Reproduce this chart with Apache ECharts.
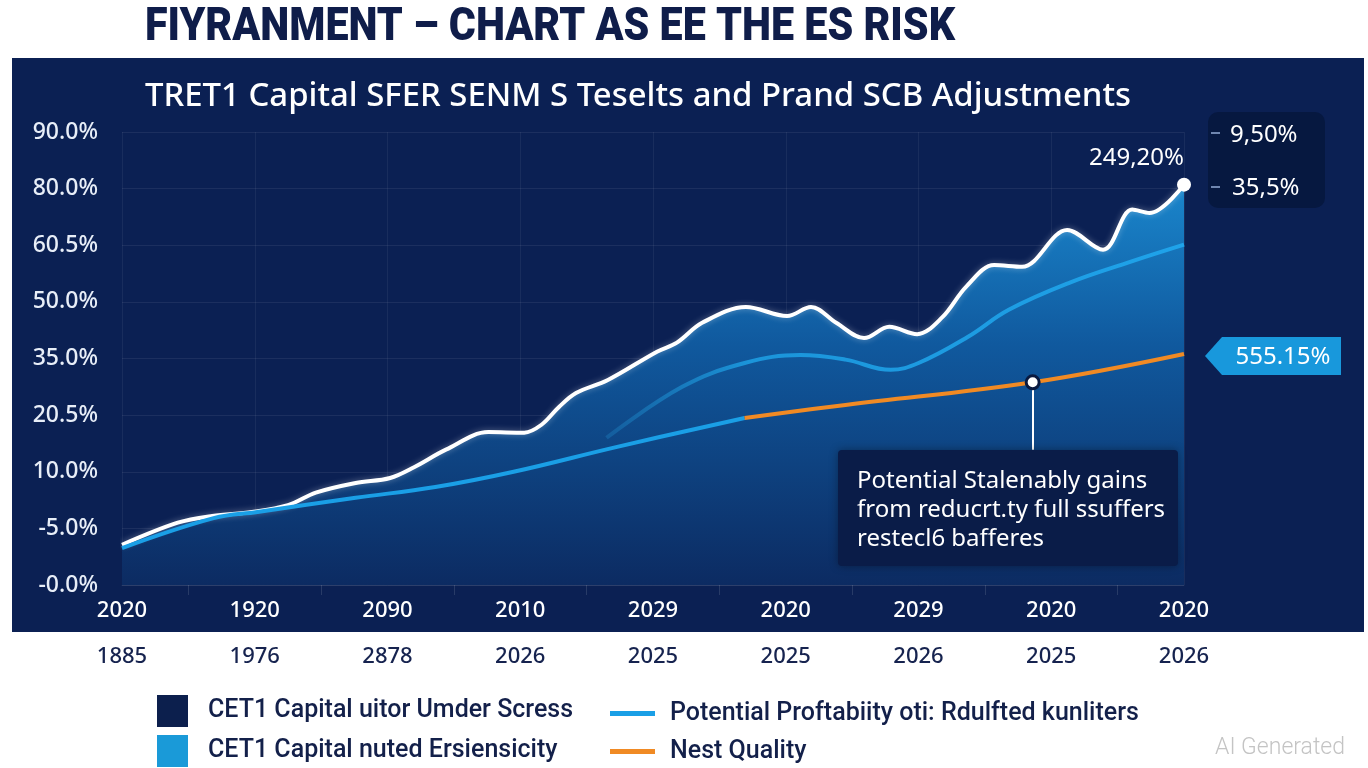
<!DOCTYPE html>
<html>
<head>
<meta charset="utf-8">
<script src="https://cdn.jsdelivr.net/npm/echarts@6/dist/echarts.min.js"></script>
<style>
html,body{margin:0;padding:0;background:#ffffff;}
#chart{width:1368px;height:768px;}
</style>
</head>
<body>
<div id="chart"></div>
<script>
// ---- texts ----
const mainTitle = 'FIYRANMENT – CHART AS EE THE ES RISK';
const subTitle = 'TRET1 Capital SFER SENM S Teselts and Prand SCB Adjustments';
const yLabels = ['-0.0%', '-5.0%', '10.0%', '20.5%', '35.0%', '50.0%', '60.5%', '80.0%', '90.0%'];
const xLabelsTop = ['2020', '1920', '2090', '2010', '2029', '2020', '2029', '2020', '2020'];
const xLabelsBottom = ['1885', '1976', '2878', '2026', '2025', '2025', '2026', '2025', '2026'];
const seriesNames = [
  'CET1 Capital uitor Umder Scress',
  'CET1 Capital nuted Ersiensicity',
  'Potential Proftabiity oti: Rdulfted kunliters',
  'Nest Quality'
];
const endLabel = '249,20%';
const sideLabels = ['9,50%', '35,5%'];
const calloutLabel = '555.15%';
const noteLines = ['Potential Stalenably gains', 'from reducrt.ty full ssuffers', 'restecl6 bafferes'];

// ---- series values (x = slot index on the year axis, y = tick index on the % axis) ----
const stressLine = [[0,0.71],[0.42,1.10],[0.68,1.22],[0.98,1.29],[1.25,1.41],[1.46,1.63],[1.76,1.80],[2.02,1.89],[2.20,2.08],[2.44,2.39],[2.76,2.70],[3.03,2.69],[3.16,2.83],[3.29,3.14],[3.42,3.39],[3.66,3.62],[4.03,4.12],[4.18,4.28],[4.37,4.63],[4.70,4.91],[5.01,4.75],[5.19,4.91],[5.38,4.63],[5.59,4.36],[5.78,4.56],[5.99,4.43],[6.18,4.73],[6.36,5.27],[6.57,5.65],[6.78,5.62],[7.12,6.27],[7.39,5.92],[7.61,6.63],[7.74,6.57],[8.0,7.07]];
const resilienceLine = [[3.65,2.60],[4.22,3.50],[4.69,3.92],[5.11,4.06],[5.45,3.98],[5.79,3.80],[6.00,3.92],[6.37,4.38],[6.68,4.86],[7.14,5.34],[7.60,5.71],[8.0,6.01]];
const profitLine = [[0,0.65],[0.69,1.18],[1.02,1.29],[1.76,1.54],[2.36,1.73],[2.95,2.00],[3.73,2.44],[4.69,2.95]];
const qualityLine = [[4.69,2.95],[5.45,3.18],[6.86,3.58],[8.0,4.08]];
const qualityMarker = [6.86, 3.58];
const noteTop = 2.39;

const chart = echarts.init(document.getElementById('chart'), null, {renderer: 'canvas'});

function measure(text, font) {
  const c = document.createElement('canvas').getContext('2d');
  c.font = font;
  return c.measureText(text).width;
}
const titleScale = 810 / measure(mainTitle, '900 46px Roboto');
const subSize = Math.round(30 * 987 / measure(subTitle, '500 30px "Noto Sans"') * 10) / 10;

const navy = '#0b2053';
const stressEnd = stressLine[stressLine.length - 1];
const lineIcon = 'path://M0,0 L45,0 L45,5 L0,5 Z';

const option = {
  backgroundColor: '#ffffff',
  animation: false,
  graphic: [
    {type: 'rect', z: -10, shape: {x: 12, y: 58, width: 1352, height: 574}, style: {fill: navy}},
    {type: 'text', z: 100, x: 145, y: 28, scaleX: titleScale, style: {text: mainTitle, fontFamily: 'Roboto', fontWeight: 900, fontSize: 46, fill: '#0f1d4a', verticalAlign: 'middle'}},
    {type: 'text', z: 100, x: 145, y: 97, style: {text: subTitle, fontFamily: 'Noto Sans', fontWeight: 500, fontSize: subSize, fill: '#ffffff', verticalAlign: 'middle'}},
    // top-right value box
    {type: 'rect', z: 100, shape: {x: 1208, y: 112, width: 117, height: 96, r: 10}, style: {fill: '#061840'}},
    {type: 'rect', z: 101, shape: {x: 1211, y: 132, width: 9, height: 2}, style: {fill: '#6f86b0'}},
    {type: 'rect', z: 101, shape: {x: 1211, y: 186, width: 9, height: 2}, style: {fill: '#6f86b0'}},
    {type: 'text', z: 101, x: 1230, y: 135, style: {text: sideLabels[0], fontFamily: 'Noto Sans', fontSize: 24, fill: '#ffffff', verticalAlign: 'middle'}},
    {type: 'text', z: 101, x: 1232, y: 188, style: {text: sideLabels[1], fontFamily: 'Noto Sans', fontSize: 24, fill: '#ffffff', verticalAlign: 'middle'}},
    // callout arrow label
    {type: 'polygon', z: 100, shape: {points: [[1205, 356], [1222, 337], [1341, 337], [1341, 375], [1222, 375]]}, style: {fill: '#1898dc'}},
    {type: 'text', z: 101, x: 1283, y: 357, style: {text: calloutLabel, fontFamily: 'Noto Sans', fontSize: 24, fill: '#ffffff', align: 'center', verticalAlign: 'middle'}},
    // note box
    {type: 'rect', z: 100, shape: {x: 838, y: 450, width: 340, height: 116, r: 4}, style: {fill: '#0a1c48', shadowBlur: 8, shadowColor: 'rgba(0,0,0,0.35)'}},
    {type: 'text', z: 101, x: 857, y: 481, style: {text: noteLines[0], fontFamily: 'Noto Sans', fontSize: 24, fill: '#ffffff', verticalAlign: 'middle'}},
    {type: 'text', z: 101, x: 857, y: 510, style: {text: noteLines[1], fontFamily: 'Noto Sans', fontSize: 24, fill: '#ffffff', verticalAlign: 'middle'}},
    {type: 'text', z: 101, x: 857, y: 539, style: {text: noteLines[2], fontFamily: 'Noto Sans', fontSize: 24, fill: '#ffffff', verticalAlign: 'middle'}},
    // watermark
    {type: 'text', z: 100, x: 1215, y: 748, style: {text: 'AI Generated', fontFamily: 'Roboto', fontWeight: 300, fontSize: 23, fill: '#c4c4c4', verticalAlign: 'middle'}}
  ],
  legend: [
    {
      orient: 'vertical', left: 157, top: 695, padding: 0,
      itemWidth: 31, itemHeight: 32, itemGap: 8,
      textStyle: {fontFamily: 'Roboto', fontWeight: 500, fontSize: 25, color: '#13204a', padding: [0, 0, 0, 15]},
      data: [
        {name: seriesNames[0], icon: 'rect', itemStyle: {color: '#0c1f4d', borderWidth: 0, opacity: 1}},
        {name: seriesNames[1], icon: 'rect', itemStyle: {color: '#1a9ad8', borderWidth: 0, opacity: 1}}
      ]
    },
    {
      orient: 'vertical', left: 610, top: 701, padding: 0,
      itemWidth: 45, itemHeight: 32, itemGap: 13,
      textStyle: {fontFamily: 'Roboto', fontWeight: 500, fontSize: 25, color: '#13204a', padding: [0, 0, 0, 10]},
      data: [
        {name: seriesNames[2], icon: lineIcon, itemStyle: {color: '#1a9fe6', borderWidth: 0}},
        {name: seriesNames[3], icon: lineIcon, itemStyle: {color: '#f08a24', borderWidth: 0}}
      ]
    }
  ],
  grid: {left: 122, right: 184, top: 132, bottom: 183, containLabel: false},
  xAxis: [
    {
      type: 'value', min: 0, max: 8, interval: 1,
      axisLine: {show: true, lineStyle: {color: 'rgba(255,255,255,0.08)'}},
      axisTick: {show: false},
      minorTick: {show: true, splitNumber: 2, length: 10, lineStyle: {color: 'rgba(255,255,255,0.12)'}},
      splitLine: {show: true, lineStyle: {color: 'rgba(255,255,255,0.06)'}},
      axisLabel: {margin: 15, fontFamily: 'Noto Sans', fontSize: 22, fontWeight: 500, color: '#ffffff', formatter: v => xLabelsTop[v]}
    },
    {
      type: 'value', min: 0, max: 8, interval: 1, position: 'bottom', offset: 46,
      axisLine: {show: false}, axisTick: {show: false}, splitLine: {show: false},
      axisLabel: {margin: 15, fontFamily: 'Noto Sans', fontSize: 22, fontWeight: 500, color: '#16234f', formatter: v => xLabelsBottom[v]}
    }
  ],
  yAxis: {
    type: 'value', min: 0, max: 8, interval: 1,
    axisLine: {show: false}, axisTick: {show: false},
    splitLine: {show: true, lineStyle: {color: 'rgba(255,255,255,0.07)'}},
    axisLabel: {margin: 24, fontFamily: 'Noto Sans', fontSize: 23, fontWeight: 500, color: '#e8eef8', formatter: v => yLabels[v]}
  },
  series: [
    {
      name: seriesNames[0], type: 'line', data: stressLine, smooth: 0.35, symbol: 'none', z: 3,
      itemStyle: {color: '#0c1f4d'},
      lineStyle: {color: '#ffffff', width: 4, shadowBlur: 6, shadowColor: 'rgba(255,255,255,0.35)'},
      areaStyle: {
        opacity: 1,
        color: new echarts.graphic.LinearGradient(0, 0, 0, 1, [
          {offset: 0, color: '#1a86cc'},
          {offset: 0.4, color: '#10599e'},
          {offset: 1, color: '#0c2b62'}
        ])
      }
    },
    {
      name: seriesNames[1], type: 'line', data: resilienceLine, smooth: 0.4, symbol: 'none', z: 4,
      itemStyle: {color: '#1a9ad8'},
      lineStyle: {width: 4, color: new echarts.graphic.LinearGradient(0, 0, 1, 0, [
        {offset: 0, color: '#145c9c'},
        {offset: 0.25, color: '#1b95da'},
        {offset: 1, color: '#1fa3ea'}
      ])}
    },
    {
      name: seriesNames[2], type: 'line', data: profitLine, smooth: 0.4, symbol: 'none', z: 4,
      itemStyle: {color: '#1a9fe6'},
      lineStyle: {width: 4, color: '#1a9fe6'}
    },
    {
      name: seriesNames[3], type: 'line', data: qualityLine, smooth: 0.4, symbol: 'none', z: 4,
      itemStyle: {color: '#f08a24'},
      lineStyle: {width: 4, color: '#f08a24'}
    },
    {
      type: 'scatter', data: [qualityMarker], symbol: 'circle', symbolSize: 13, z: 6,
      itemStyle: {color: '#ffffff', borderColor: '#0a1a40', borderWidth: 3, opacity: 1},
      markLine: {
        silent: true, symbol: 'none', label: {show: false}, z: 5,
        lineStyle: {color: '#ffffff', width: 2, type: 'solid', opacity: 1},
        data: [[{coord: qualityMarker}, {coord: [qualityMarker[0], noteTop]}]]
      }
    },
    {
      type: 'scatter', data: [stressEnd], symbol: 'circle', symbolSize: 14, z: 6,
      itemStyle: {color: '#ffffff', opacity: 1},
      label: {show: true, formatter: endLabel, position: 'top', distance: 8, align: 'right', offset: [0, 0],
        fontFamily: 'Noto Sans', fontSize: 24, color: '#ffffff'}
    }
  ]
};
chart.setOption(option);
</script>
</body>
</html>
